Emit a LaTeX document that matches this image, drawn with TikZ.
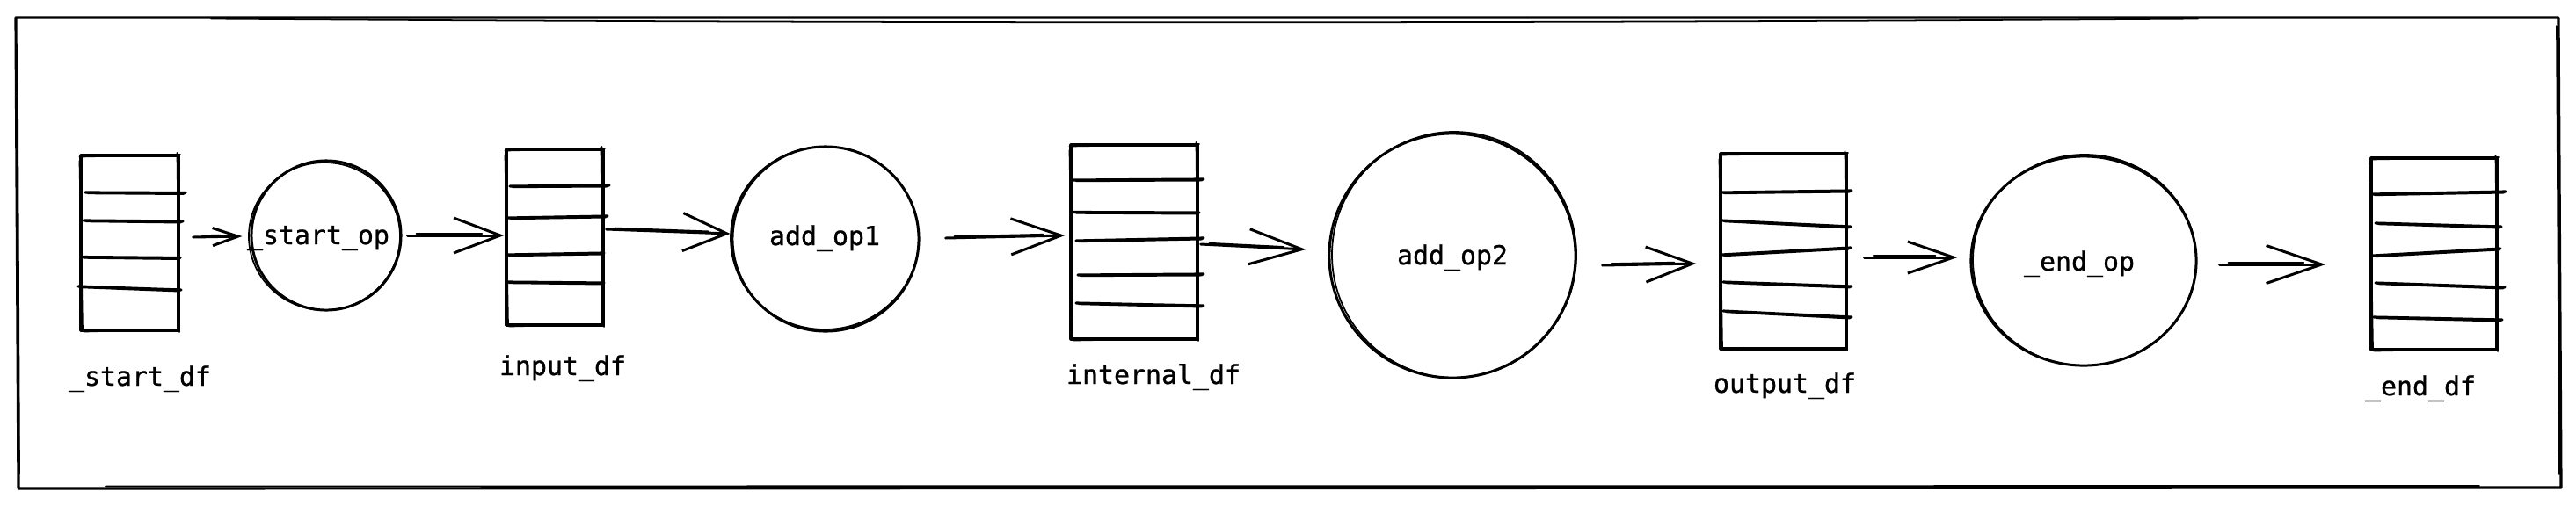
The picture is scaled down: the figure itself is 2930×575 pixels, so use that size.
\documentclass[tikz,border=0pt]{standalone}
\usepackage{fontspec}
\newfontfamily\monof[FakeBold=0.8]{DejaVu Sans Mono}
\usetikzlibrary{arrows.meta,shapes.geometric,fit}
\tikzset{
  skA/.style={line width=0.9pt, line cap=round, line join=round},
  skB/.style={line width=0.5pt, line cap=round},
  lbl/.style={font=\monof\fontsize{8.5}{10}\selectfont, inner sep=0pt, anchor=base},
  dfbox/.style={rectangle, inner sep=0pt},
  opshape/.style={ellipse, draw, line width=0.85pt, inner sep=0pt},
  conn/.style={line width=0.85pt, line cap=round, line join=round},
}
\newcommand\skrect[4]{%
  \draw[skA] (#1,#2) -- (#3,#2) -- (#3,#4) -- (#1,#4) -- cycle;
  \draw[skB] ({#1-1.5},{#2+1.5}) -- ({#3+2},{#2-1});
  \draw[skB] ({#3-1.5},{#2-3}) -- ({#3+1},{#4+2});
  \draw[skB] ({#3+1},{#4-1}) -- ({#1+3},{#4+1.5});
  \draw[skB] ({#1+2},{#4+1}) -- ({#1-1.5},{#2+6});
}
\newcommand\hl[4]{%
  \draw[skA] (#1,#2) -- (#3,#4);
  \draw[skB] ({#1+3},{#2+1.3}) -- ({#3-2},{#4+1.6});
}
\newcommand\link[4]{%
  \draw[conn, -{Straight Barb[length=#3, width=#4, line width=0.85pt]}] #1 -- #2;
  \draw[skB, transform canvas={yshift=0.5pt}, shorten >=2.5mm, shorten <=1mm] #1 -- #2;
}
\begin{document}
\begin{tikzpicture}[x=0.01cm,y=-0.01cm]
\useasboundingbox (0,0) rectangle (2930,575);

% outer frame
\draw[skA] (18,20) -- (2910,20) -- (2913,555) -- (21,556) -- cycle;
\draw[skB] (240,21.5) .. controls (900,26) and (1700,27) .. (2500,21.5);
\draw[skB] (20,110) -- (22,540);
\draw[skB] (2908,30) -- (2911,540);
\draw[skB] (120,553.5) -- (2820,553);

% data frames
\node[dfbox, fit={(92,177) (203,376)}] (startdf) {};
\skrect{92}{177}{203}{376}
\hl{97}{219}{211}{219.5}
\hl{95}{251}{208}{252}
\hl{92}{292.5}{205}{293.5}
\hl{89}{326}{206}{330}
\node[lbl] (startdflbl) at (159,439) {\_start\_df};

\node[dfbox, fit={(576,170) (686,370)}] (inputdf) {};
\skrect{576}{170}{686}{370}
\hl{580}{212}{693}{211}
\hl{578}{248}{691}{246}
\hl{576}{290}{687}{288}
\hl{576}{321}{687}{322}
\node[lbl] (inputdflbl) at (640,427) {input\_df};

\node[dfbox, fit={(1218,165) (1362,386)}] (internaldf) {};
\skrect{1218}{165}{1362}{386}
\hl{1221}{205}{1369}{204}
\hl{1221}{241.5}{1364}{242}
\hl{1224}{274}{1369}{271}
\hl{1226}{313}{1369}{312}
\hl{1224}{345}{1369}{348}
\node[lbl] (internaldflbl) at (1312,437) {internal\_df};

\node[dfbox, fit={(1957,175) (2100,397)}] (outputdf) {};
\skrect{1957}{175}{2100}{397}
\hl{1958}{219}{2106}{217}
\hl{1958}{251}{2105}{258}
\hl{1958}{290}{2105}{282}
\hl{1960}{321}{2106}{326}
\hl{1960}{354}{2106}{361}
\node[lbl] (outputdflbl) at (2030,447) {output\_df};

\node[dfbox, fit={(2697,180) (2840,398)}] (enddf) {};
\skrect{2697}{180}{2840}{398}
\hl{2698}{221}{2850}{218}
\hl{2702}{254}{2845}{258}
\hl{2699}{291}{2844}{283}
\hl{2702}{322}{2849}{327}
\hl{2700}{361}{2846}{364}
\node[lbl] (enddflbl) at (2753,450) {\_end\_df};

% operators
\node[opshape, minimum width=1.7cm, minimum height=1.7cm] (startop) at (371,268) {};
\draw[skB] (369,269) ellipse [x radius=86, y radius=84];
\node[lbl] (startoptxt) at (362,278) {\_start\_op};

\node[opshape, minimum width=2.12cm, minimum height=2.10cm] (addop1) at (939,272) {};
\draw[skB] (938,271) ellipse [x radius=107, y radius=104];
\node[lbl] (addop1txt) at (938,279) {add\_op1};

\node[opshape, minimum width=2.80cm, minimum height=2.78cm] (addop2) at (1652,291) {};
\draw[skB] (1654,290) ellipse [x radius=139, y radius=140];
\node[lbl] (addop2txt) at (1652,301) {add\_op2};

\node[opshape, minimum width=2.56cm, minimum height=2.38cm] (endop) at (2370,297) {};
\draw[skB] (2371,296) ellipse [x radius=127, y radius=120];
\node[lbl] (endoptxt) at (2365,308) {\_end\_op};

% connectors
\link{([shift={(16,-6.5)}]startdf.east)}{([shift={(-9,1)}]startop.west)}{2.9mm}{2mm}
\link{([shift={(6,0)}]startop.east)}{([shift={(-2,-2)}]inputdf.west)}{5.3mm}{4mm}
\link{([shift={(3,-9)}]inputdf.east)}{([shift={(-1,-6)}]addop1.west)}{5mm}{4.3mm}
\link{([shift={(29,-1)}]addop1.east)}{([shift={(-6,-7.5)}]internaldf.west)}{5.7mm}{4.1mm}
\link{([shift={(3,2.5)}]internaldf.east)}{([shift={(-25,-7)}]addop2.west)}{6mm}{4mm}
\link{([shift={(29,11)}]addop2.east)}{([shift={(-27,14)}]outputdf.west)}{5.3mm}{4mm}
\link{([shift={(20,7)}]outputdf.east)}{([shift={(-14,-4)}]endop.west)}{5.2mm}{3.6mm}
\link{([shift={(25,4)}]endop.east)}{([shift={(-51,12)}]enddf.west)}{6.3mm}{4.3mm}
\end{tikzpicture}
\end{document}
